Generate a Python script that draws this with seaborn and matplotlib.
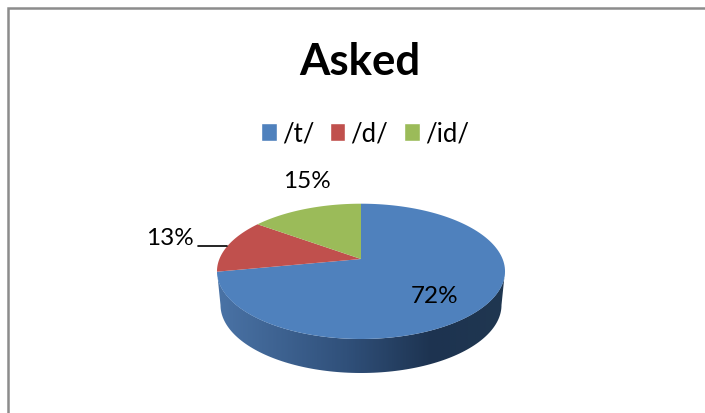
#import the required libraries
import numpy as np
import matplotlib
matplotlib.use("Agg")
import matplotlib.pyplot as plt
from matplotlib.colors import LinearSegmentedColormap
from matplotlib.patches import Polygon
import seaborn as sns

#chart data
categories = ["/t/", "/d/", "/id/"]
shares = [72, 13, 15]
slice_colors = ["#4F81BD", "#C0504D", "#9BBB59"]
title_text = "Asked"

sns.set_theme(style="white")
plt.rcParams["font.family"] = ["Lato", "DejaVu Sans"]

#the whole figure is one axes measured in pixels, y going down
fig = plt.figure(figsize=(7.05, 4.14), dpi=100)
ax = fig.add_axes([0, 0, 1, 1])

#pie gives the slice angles, the flat wedges get replaced by tilted ones below
wedges, _ = ax.pie(shares, colors=slice_colors, startangle=90, counterclock=False)
ax.set_aspect("auto")
ax.set_xlim(0, 705)
ax.set_ylim(414, 0)
ax.axis("off")


#tilt a point of the unit circle, far edge smaller than near edge
def project(u, v):
    k = 0.1825
    return 361 + 141.6 * u / (1 + k * v), 260 - 65.4 * v / (1 + k * v)


#side of the pie with its dark gradient
t = np.linspace(np.pi, 2 * np.pi, 120)
top_edge = np.column_stack([361 + 144 * np.cos(t), 272 + 68 * np.sin(-t)])
bottom_edge = np.column_stack([361 + 140.5 * np.cos(t), 306 - 68 * np.sin(t)])
side = Polygon(np.vstack([top_edge, bottom_edge[::-1]]), closed=True,
               facecolor="none", edgecolor="none")
ax.add_patch(side)
side_cmap = LinearSegmentedColormap.from_list(
    "side", [(0, "#4A73A6"), (0.45, "#30507A"), (0.75, "#1D3350"), (1, "#203750")])
img = ax.imshow(np.linspace(0, 1, 300).reshape(1, -1), cmap=side_cmap,
                extent=(217, 505, 380, 260), aspect="auto", zorder=1)
img.set_clip_path(side)
ax.set_xlim(0, 705)
ax.set_ylim(414, 0)

#top face of the pie
for w in wedges:
    a = np.radians(np.linspace(w.theta1, w.theta2, 150))
    x, y = project(np.cos(a), np.sin(a))
    pts = np.column_stack([x, y])
    pts = np.vstack([project(0, 0), pts])
    ax.add_patch(Polygon(pts, closed=True, facecolor=w.get_facecolor(),
                         edgecolor="none", zorder=2))
    w.set_visible(False)

#data labels
ax.text(434.5, 296.5, f"{shares[0]}%", fontsize=17.5, ha="center", va="center", color="black", zorder=3)
ax.text(170, 239, f"{shares[1]}%", fontsize=17.5, ha="center", va="center", color="black", zorder=3)
ax.text(306.5, 182, f"{shares[2]}%", fontsize=17.5, ha="center", va="center", color="black", zorder=3)
ax.plot([198, 227], [246.5, 246.5], color="black", lw=1.2, zorder=3)

#title and legend
ax.text(359.5, 62, title_text, fontsize=31.5, fontweight="bold", ha="center", va="center", color="black")
handles = [plt.Rectangle((0, 0), 1, 1, facecolor=c) for c in slice_colors]
ax.legend(handles, categories, ncol=3, frameon=False, fontsize=18.5,
          loc="center", bbox_to_anchor=(365, 134.5), bbox_transform=ax.transData,
          handlelength=0.6, handleheight=0.65, handletextpad=0.2, columnspacing=0.62,
          labelcolor="black")

#chart border, only the top and left lines are inside the picture
ax.plot([8, 8, 705], [414, 9, 9], color="#8C8C8C", lw=1.8, solid_joinstyle="miter")

fig.savefig("out.png", dpi=100, facecolor="white")
